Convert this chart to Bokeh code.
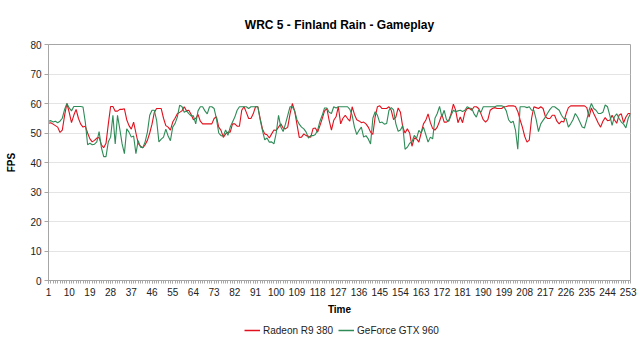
from bokeh.plotting import figure
from bokeh.layouts import column
from bokeh.models import Range1d, FixedTicker, Legend, LegendItem
from bokeh.embed import file_html
from bokeh.resources import INLINE

title = "WRC 5 - Finland Rain - Gameplay"
series_names = ["Radeon R9 380", "GeForce GTX 960"]
y_ticks = [0, 10, 20, 30, 40, 50, 60, 70, 80]

radeon = [
    53.3, 53.5, 53, 52.5, 52, 50.2, 51, 56, 60, 57,
    53.5, 56, 58, 55, 53, 52, 52.3, 50, 48, 47,
    47.5, 48.3, 48.5, 46, 45, 46.5, 53, 59, 59, 57.4,
    57.4, 58, 58, 58.2, 54.5, 52.5, 51.3, 53.7, 50, 46.5,
    45.5, 45, 46, 47.5, 50, 53, 57, 58.3, 58.3, 58.3,
    55, 52.5, 52, 51, 53.7, 55, 56.5, 57,
    57.5, 58.9, 57.5, 57.7, 56.3, 54.5, 54.9, 56.3, 54, 53.1,
    53.1, 53.1, 53.1, 53.1, 54.9, 55.5, 52, 50.9, 48.5, 49.7,
    50.3, 50.3, 53.1, 53.1, 52.3, 52.3, 57.7, 58.9, 57, 54.9,
    54.9, 56.5, 58.9, 58.9, 55, 51.4, 49.7, 49.4, 48.3, 49.7,
    51, 50.9, 52, 53.1, 51.7, 51.4, 52, 56.5, 60, 57.5,
    53, 48.5, 48.6, 49.7, 49.1, 48.9, 48.6, 51.5, 51.7, 50.3,
    52.5, 54.9, 57.5, 58.3, 54.3, 51,
    54.3, 55.5, 58.9, 53.1, 55, 56, 54.9, 54, 58.9, 56.3,
    54.5, 54.1, 53.5, 53.7, 53.1, 52, 50.3, 49.5, 55.5, 58.9,
    59.2, 58.3, 58.3, 58.3, 58.9, 57.7, 54.5, 55.4, 58.5, 57,
    52, 50, 51.4, 50, 45.5, 48.3, 48, 46.9, 50, 53.1,
    54.3, 56.5, 53.5, 51.5, 51, 52, 54, 56.3, 53.7, 53.7,
    54.3, 56.5, 59.8, 57.7, 53.5, 55.4, 53.5, 57, 58.3, 58.3,
    57.7, 58.9, 58.9, 58.3, 56.5, 54.5, 53.7, 54.5, 57.7, 58.3,
    58.6, 58.3, 58.3, 58.3, 58.9, 59, 59.2, 59.2, 59.2, 59,
    57.3, 54.5, 52, 48.9, 46.9, 47.6, 55, 58.9, 58.6, 58.3,
    58.9, 58.3, 55.6, 54.9, 54.9, 56, 56, 54, 53.1, 54,
    53.7, 56.5, 58.6, 59.2, 59.2, 59.2, 59.2, 59.2, 59.2, 59.2,
    58.6, 55.4, 58.5, 56.6, 55, 53.3, 52, 54, 55.2, 54.2,
    54.3, 56, 54.5, 53.3, 56, 56.5, 53.5, 55.4, 56.6, 56.6,
]

geforce = [
    54, 54.2, 53.7, 54, 53.5, 54, 55, 58, 60, 58.5,
    57.5, 59, 59, 59, 59, 58.8, 53.7, 46, 46.5, 46,
    46.2, 47, 50.5, 45, 42, 42, 47, 48.6, 56, 46.3,
    56, 51.3, 46.3, 43, 51.4, 50.3, 48.6, 49, 43, 47.4,
    45.2, 45, 47, 50.3, 56, 57.7, 57.7, 54.3, 47, 47.9,
    48.6, 51.3, 49, 47.4, 52, 53.2, 55.4, 59.4,
    59, 57, 57.5, 56.6, 55.8, 55.8, 53.1, 57.5, 58.9, 58.9,
    57.5, 56.5, 58.9, 58.9, 58.3, 54.9, 50, 49.1, 49, 51,
    49.2, 52, 53.7, 55.4, 57.7, 58.9, 58.9, 58.9, 58.9, 58.3,
    58.9, 58.9, 58.9, 58.9, 54.5, 50.9, 47.7, 48.3, 46.9, 47,
    46.3, 50, 56, 52, 50.5, 53, 56, 58.9, 58.9, 57.5,
    54.5, 53, 52, 51.4, 50.3, 48.3, 49.1, 49.1, 49.5, 51,
    54, 56, 58.5, 58.5, 57, 56.6,
    58.9, 58.5, 58.9, 58.9, 58.9, 58.9, 58.9, 58, 56, 52,
    49.5, 50.9, 52, 48.6, 49.1, 48, 46.3, 55, 57.2, 56,
    53.5, 53.7, 53, 53.2, 57.7, 58.6, 57.8, 53.1, 50.6, 51,
    52.5, 44.5, 45.2, 46.5, 47, 49.2, 48.2, 50.9, 50, 52,
    49.5, 46.9, 48.6, 48, 55, 56.6, 59, 55.5, 57.7, 54.5,
    54, 56, 57.7, 57.2, 57.5, 57.7, 57.3, 57.7, 58.9, 58.5,
    58.3, 56.5, 55.4, 57.8, 57, 58.9, 58.9, 58.9, 58.9, 58.9,
    58.9, 59.2, 59.2, 59.2, 58.9, 57.5, 54.5, 53.5, 54, 51,
    44.5, 58.9, 58.9, 58.9, 58.6, 58.9, 57.7, 57.7, 54.5, 50.5,
    53.1, 54.3, 55.4, 56.8, 58, 58.9, 58.9, 58.3, 57.7, 56,
    54.9, 54.9, 52, 53.1, 54.5, 56.6, 55.4, 53.7, 52, 51.7,
    54.5, 57.7, 60, 58.3, 57.7, 56.6, 56.6, 57, 59.5, 58.9,
    56, 52.6, 55.5, 56.5, 55, 53.7, 53, 51.7, 55, 56.6,
]

n = len(radeon)
time = list(range(1, n + 1))
x_ticks = list(range(1, n + 1, 9))

FONT = "Liberation Sans"
RED = "#e0101c"
GREEN = "#2e8b57"

p = figure(width=640, height=322, output_backend="svg", toolbar_location=None,
           x_range=Range1d(1, n), y_range=Range1d(0, 80),
           min_border_left=48, min_border_right=10, min_border_top=44,
           min_border_bottom=42)
p.background_fill_color = "white"
p.border_fill_color = "white"
p.outline_line_color = "#a6a6a6"

p.title.text = title
p.title.align = "center"
p.title.text_font = FONT
p.title.text_font_size = "12px"
p.title.text_font_style = "bold"
p.title.text_color = "#000000"
p.title.standoff = 25

# axes
p.yaxis.ticker = FixedTicker(ticks=y_ticks)
p.xaxis.ticker = FixedTicker(ticks=x_ticks, minor_ticks=time)
for ax in (p.xaxis[0], p.yaxis[0]):
    ax.axis_line_color = "#a6a6a6"
    ax.major_tick_line_color = "#a6a6a6"
    ax.minor_tick_line_color = "#a6a6a6"
    ax.major_tick_in = 0
    ax.major_tick_out = 4
    ax.minor_tick_in = 0
    ax.major_label_text_font = FONT
    ax.major_label_text_font_size = "10px"
    ax.major_label_text_color = "#222222"
    ax.axis_label_text_font = FONT
    ax.axis_label_text_font_size = "10px"
    ax.axis_label_text_font_style = "bold"
    ax.axis_label_text_color = "#000000"
p.yaxis.minor_tick_out = 0
p.xaxis.minor_tick_out = 3
p.xaxis.major_tick_out = 3
p.yaxis.axis_label = "FPS"
p.xaxis.axis_label = "Time"
p.xaxis.major_label_standoff = 4
p.xaxis.axis_label_standoff = 5
p.yaxis.major_label_standoff = 3
p.yaxis.axis_label_standoff = 10

p.xgrid.grid_line_color = None
p.ygrid.grid_line_color = "#e4e4e4"

p.line(time, radeon, line_color=RED, line_width=1.1)
p.line(time, geforce, line_color=GREEN, line_width=1.1)

# legend strip below the chart (its series lie outside this strip's range,
# so only the legend itself is visible)
lg = figure(width=640, height=28, output_backend="svg", toolbar_location=None,
            x_axis_type=None, y_axis_type=None,
            x_range=Range1d(0, 1), y_range=Range1d(0, 1),
            min_border=0, min_border_left=0, min_border_right=0,
            min_border_top=0, min_border_bottom=0)
lg.grid.visible = False
lg.outline_line_color = None
lg.background_fill_color = "white"
lg.border_fill_color = "white"
k1 = lg.line(time, radeon, line_color=RED, line_width=1.5)
k2 = lg.line(time, geforce, line_color=GREEN, line_width=1.5)
legend = Legend(items=[LegendItem(label=series_names[0], renderers=[k1]),
                       LegendItem(label=series_names[1], renderers=[k2])],
                orientation="horizontal", location=(196, 14),
                border_line_color=None, background_fill_alpha=0,
                label_text_font=FONT, label_text_font_size="10px",
                label_text_color="#222222",
                glyph_width=16, glyph_height=10, spacing=5, padding=2,
                margin=0, label_standoff=3, label_height=12)
lg.add_layout(legend, "center")

layout = column(p, lg, spacing=0)
open("out.html", "w").write(file_html(layout, INLINE))
